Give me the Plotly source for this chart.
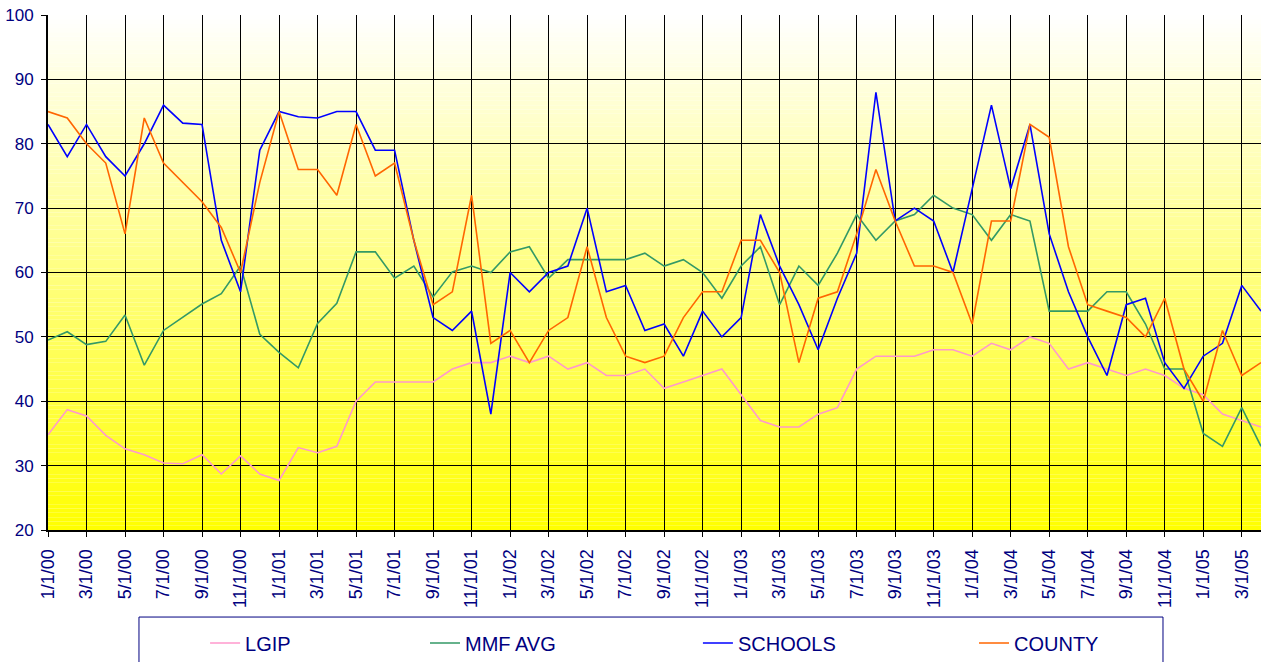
import plotly.graph_objects as go

# Monthly observation dates (categories), Jan 2000 .. Apr 2005
dates = [f"{m}/1/{y:02d}" for y in range(0, 6) for m in range(1, 13)][:64]

lgip = [34.8, 38.7, 37.7, 34.7, 32.6, 31.7, 30.4, 30.3, 31.7, 28.7, 31.5, 28.7, 27.7, 32.8, 32.0, 33.0,
        40, 43, 43, 43, 43, 45, 46, 46, 47, 46, 47, 45, 46, 44, 44, 45,
        42, 43, 44, 45, 41, 37, 36, 36, 38, 39, 45, 47, 47, 47, 48, 48,
        47, 49, 48, 50, 49, 45, 46, 45, 44, 45, 44, 42, 41, 38, 37, 36]

mmf_avg = [49.5, 50.8, 48.8, 49.3, 53.4, 45.6, 51.0, 53.0, 55.1, 56.7, 61.0, 50.4, 47.6, 45.2, 52.1, 55.2,
           63.2, 63.2, 59.1, 61.0, 56.2, 60.1, 61, 60, 63.2, 64, 59.1, 62, 62, 62, 62, 63,
           61, 62, 60, 56, 61, 64, 55, 61, 58, 63, 69, 65, 68, 69, 72, 70,
           69, 65, 69, 68, 54, 54, 54, 57, 57, 52, 45, 45, 35, 33, 39, 33]

schools = [83, 78, 83, 78, 75, 80, 86, 83.2, 83, 65, 57, 79, 85, 84.2, 84, 85,
           85, 79, 79, 65, 53, 51, 54, 38, 60, 57, 60, 61, 70, 57, 58, 51,
           52, 47, 54, 50, 53, 69, 61, 55, 48, 56, 63, 88, 68, 70, 68, 60,
           73, 86, 73, 83, 66, 57, 50, 44, 55, 56, 46, 42, 47, 49, 58, 54]

county = [85, 84, 80, 77, 66, 84, 77, 74, 71, 67, 60, 74, 85, 76, 76, 72,
          83, 75, 77, 65, 55, 57, 72, 49, 51, 46, 51, 53, 64, 53, 47, 46,
          47, 53, 57, 57, 65, 65, 60, 46, 56, 57, 66, 76, 68, 61, 61, 60,
          52, 68, 68, 83, 81, 64, 55, 54, 53, 50, 56, 45, 40, 51, 44, 46]

series = [("LGIP", lgip, "#FF99CC"), ("MMF AVG", mmf_avg, "#339966"),
          ("SCHOOLS", schools, "#0000FF"), ("COUNTY", county, "#FF6600")]

NAVY = "#000080"
FONT = "Liberation Sans, Arial, sans-serif"

fig = go.Figure()
legend_ids = ["legend", "legend2", "legend3", "legend4"]
for (name, vals, col), lid in zip(series, legend_ids):
    fig.add_trace(go.Scatter(x=dates, y=vals, mode="lines", name=name,
                             line=dict(color=col, width=1.6), legend=lid))

# vertical gradient background (white -> yellow)
shapes = []
N = 120
for k in range(N):
    f = (k + 0.5) / N  # 0 at bottom, 1 at top
    b = int(round(255 * f))
    shapes.append(dict(type="rect", xref="paper", yref="paper", x0=0, x1=1,
                       y0=k / N, y1=(k + 1) / N, fillcolor=f"rgb(255,255,{b})",
                       line=dict(width=0), layer="below"))
# legend frame
shapes.append(dict(type="rect", xref="paper", yref="paper", x0=0.075, x1=0.9192,
                   y0=-0.32, y1=-0.169, fillcolor="white",
                   line=dict(color=NAVY, width=1), layer="below"))

legend_x = [0.1295, 0.3108, 0.5358, 0.7634]
legend_common = dict(orientation="h", y=-0.2194, yanchor="middle", xanchor="left",
                     bgcolor="rgba(0,0,0,0)", font=dict(family=FONT, size=20, color=NAVY))

layout_legends = {}
for lid, lx in zip(legend_ids, legend_x):
    layout_legends[lid] = dict(x=lx, **legend_common)

fig.update_layout(
    width=1263, height=662,
    margin=dict(l=48, r=2, t=15, b=132, autoexpand=False),
    paper_bgcolor="white", plot_bgcolor="rgba(0,0,0,0)",
    shapes=shapes,
    showlegend=True,
    **layout_legends,
)

fig.update_xaxes(
    type="category", range=[0, 63], automargin=False,
    tickmode="array", tickvals=dates[::2], ticktext=dates[::2],
    tickangle=-90, ticks="outside", ticklen=5, tickcolor="black",
    tickfont=dict(family=FONT, size=18, color=NAVY), ticklabelstandoff=5,
    showgrid=True, gridcolor="black", gridwidth=1,
    showline=True, linecolor="black", linewidth=2, mirror=False,
    zeroline=False,
)
fig.update_yaxes(
    range=[20, 100], tickmode="array", tickvals=list(range(20, 101, 10)),
    automargin=False,
    ticks="outside", ticklen=5, tickcolor="black",
    tickfont=dict(family=FONT, size=17, color=NAVY), ticklabelstandoff=4,
    showgrid=True, gridcolor="black", gridwidth=1,
    showline=True, linecolor="black", linewidth=2, mirror=False,
    zeroline=False,
)

fig.write_html("out.html", config={"displayModeBar": False},
               post_script="document.body.style.margin='0';document.body.style.overflow='hidden';")
